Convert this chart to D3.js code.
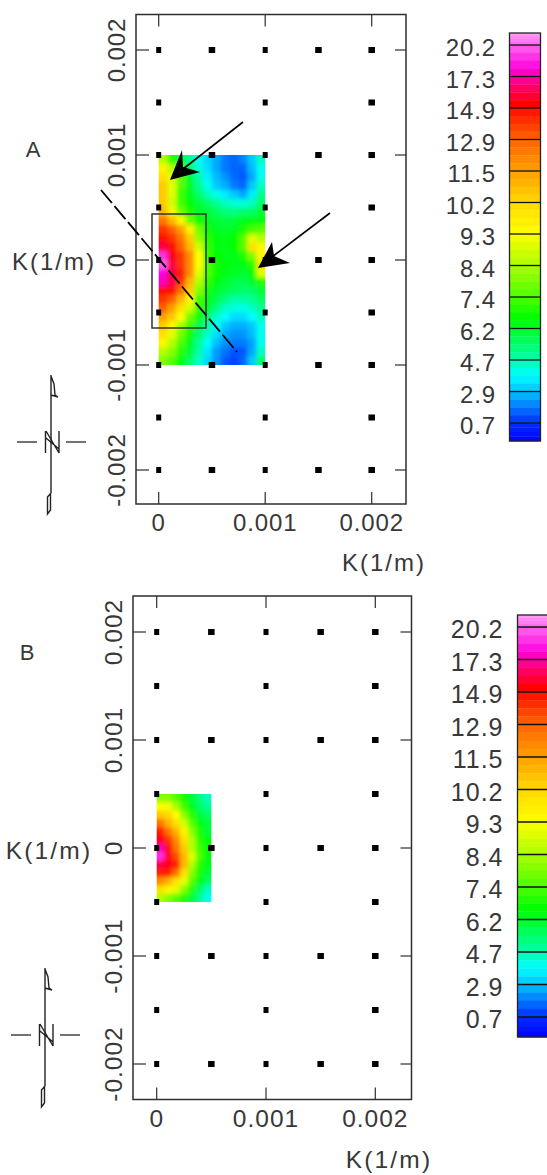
<!DOCTYPE html>
<html><head><meta charset="utf-8">
<script src="https://cdn.jsdelivr.net/npm/d3@7/dist/d3.min.js"></script>
<style>html,body{margin:0;padding:0;background:#fff}svg{display:block}
text{font-family:"Liberation Sans",Arial,sans-serif;fill:#383838}</style></head>
<body><svg id="c" width="547" height="1175"></svg>
<script>
const legendLabels=["20.2","17.3","14.9","12.9","11.5","10.2","9.3","8.4","7.4","6.2","4.7","2.9","0.7"];
const legendEnds=[22,0];
const colorStops=[0,3.8,6.6,9.3,15.2,18,20.2,22];
const colorValues=["#0000ff","#00ffff","#00ff00","#ffff00","#ff0000","#ff00e0","#ff66ee","#ffa0f8"];
const xTicks=[0,0.001,0.002];
const yTicks=[0.002,0.001,0,-0.001,-0.002];
const xLabels=["0","0.001","0.002"];
const yLabels=["0.002","0.001","0","-0.001","-0.002"];
const gridColumns=[
 {k:0,rows:[0.002,0.0015,0.001,0.0005,0,-0.0005,-0.001,-0.0015,-0.002]},
 {k:0.0005,rows:[0.002,0.001,0,-0.001,-0.002]},
 {k:0.001,rows:[0.002,0.0015,0.001,0.0005,0,-0.0005,-0.001,-0.0015,-0.002]},
 {k:0.0015,rows:[0.002,0.001,0,-0.001,-0.002]},
 {k:0.002,rows:[0.002,0.0015,0.001,0.0005,0,-0.0005,-0.001,-0.0015,-0.002]}];
const heatA=[
[8.5,7,6,5,4,3.2,2.5,1.8,1.5,2,3,4.5],
[9.5,8.5,7,5.5,4.2,3.3,2.5,1.8,1.5,1.5,2.8,4],
[10,9,7.5,6,4.8,3.6,2.8,2.2,1.6,1.3,2.5,4],
[10.5,9,7.5,6.3,5,4,3,2.6,1.8,1.5,3,4.5],
[10.5,9,7.2,6.3,5.5,4.6,4,3.5,3,2.5,3.5,5],
[10.5,8.8,7.3,6.6,6,5.5,5,4.5,4.3,4.2,4.5,5.5],
[11,9.5,7.8,6.8,6.2,6,5.6,5.3,5.2,5.4,5.5,6],
[12.5,11,9.5,7.8,6.8,6.3,6,5.9,6,6.3,6.5,6.5],
[14,13,11.5,9.6,7.8,6.7,6.2,6.1,6.3,6.8,7.3,7.5],
[15,14,12.5,10.5,8.2,7,6.5,6.4,6.6,7.5,9,8.5],
[16,15,13,11,8.8,7.1,6.5,6.4,6.6,7.5,10,9.5],
[19,15.5,14,12,9.3,7.2,6.6,6.4,6.4,6.9,8,9.5],
[20,16,14,12,9.3,7.4,6.7,6.5,6.4,6.4,7,10],
[18,16,14.5,12,9,7.4,6.7,6.4,6.2,6.1,6.5,9],
[17.5,16,14,11,8.5,7.1,6.5,6.1,5.8,5.7,6.1,7],
[15,15,12.5,10.5,8,6.8,6.1,5.8,5.6,5.4,5.5,6],
[14,13,11,9.5,7.3,6.5,5.8,5.2,4.8,4.8,5,5.5],
[13,11.5,10,8.8,7.2,6.2,5.2,4.4,4.2,4,4.4,5],
[11.5,10.5,9.3,7.8,6.8,5.4,4.4,3.8,3.3,3.3,3.8,4.5],
[10.5,9.5,8.3,7.2,5.8,4.8,3.8,3,2.6,2.6,3,4],
[10,9,7.8,6.8,5.4,4.4,3.3,2.6,2.2,2.2,2.8,4],
[9.5,8.5,7.4,6.3,5,3.8,2.8,2.2,1.8,1.8,2.4,4],
[8.5,8,7,6,4.8,3.4,2.3,1.7,1.2,1.3,2.5,4.5],
[8,7.5,6.5,5.5,4.4,3.2,2.2,1.3,1,1.5,3,5.5]];
const heatB=[
[8,8,7.5,6.8,6,5.3,4.5],
[9.3,9.2,8.3,7.2,6.4,5.5,5],
[10.5,10.2,9.3,8,7,6,5.5],
[12.5,11,10,8.8,7.5,6.5,6],
[14.5,12.5,11,9.5,8,6.9,6],
[15.5,14,12,10,8.5,7,6.5],
[17.5,15,12.5,10.5,8.5,7.3,6.5],
[19,15.5,13.5,11,9,7.4,6.5],
[16,15.5,14.5,11,8.5,7,6.4],
[14.5,14.5,12.5,10,8,6.9,6],
[12,11,10,9,7.5,6.4,5.5],
[10,9.5,9,8,7,5.5,4.5],
[8.5,8,7.5,7,6,5,4]];

const color=d3.scaleLinear().domain(colorStops).range(colorValues).interpolate(d3.interpolateRgb);
const svg=d3.select("#c");
const defs=svg.append("defs");
const ink="#2e2e2e";

function panel(o){
  const x=d3.scaleLinear().domain([0,0.002]).range([o.x0,o.x2]);
  const y=d3.scaleLinear().domain([0.002,-0.002]).range([o.y2,o.yn2]);
  const g=svg.append("g");
  const id="clip"+o.name, fid="blur"+o.name;
  const hx=d3.scaleLinear().domain([0,o.heat[0].length]).range([x(0),x(o.ext)]);
  const hy=d3.scaleLinear().domain([0,o.heat.length]).range([y(o.hExt),y(-o.hExt)]);
  defs.append("clipPath").attr("id",id).append("rect")
    .attr("x",x(0)).attr("y",y(o.hExt)).attr("width",x(o.ext)-x(0)).attr("height",y(-o.hExt)-y(o.hExt));
  defs.append("filter").attr("id",fid).attr("x","-10%").attr("y","-10%").attr("width","120%").attr("height","120%")
    .append("feGaussianBlur").attr("stdDeviation",o.blur).attr("edgeMode","duplicate");
  const heat=g.append("g").attr("clip-path",`url(#${id})`).append("g").attr("filter",`url(#${fid})`);
  const cols=o.heat[0].length, rows=o.heat.length;
  for(let r=-2;r<rows+2;r++)for(let c=-2;c<cols+2;c++){
    const v=o.heat[Math.max(0,Math.min(rows-1,r))][Math.max(0,Math.min(cols-1,c))];
    heat.append("rect").attr("x",hx(c)).attr("y",hy(r))
      .attr("width",hx(c+1)-hx(c)+0.5).attr("height",hy(r+1)-hy(r)+0.5).attr("fill",color(v));
  }
  gridColumns.forEach(col=>col.rows.forEach(v=>{
    const w=(col.k===0||col.k===0.001)?5:6.5;
    g.append("rect").attr("x",x(col.k)-w/2).attr("y",y(v)-3).attr("width",w).attr("height",6).attr("fill","#000");
  }));
  g.append("rect").attr("x",o.l).attr("y",o.t).attr("width",o.r-o.l).attr("height",o.b-o.t)
    .attr("fill","none").attr("stroke",ink).attr("stroke-width",1.5);
  xTicks.forEach(v=>{
    g.append("line").attr("x1",x(v)).attr("x2",x(v)).attr("y1",o.t).attr("y2",o.t+12).attr("stroke",ink).attr("stroke-width",1.2);
    g.append("line").attr("x1",x(v)).attr("x2",x(v)).attr("y1",o.b).attr("y2",o.b-12).attr("stroke",ink).attr("stroke-width",1.2);
  });
  yTicks.forEach(v=>{
    g.append("line").attr("y1",y(v)).attr("y2",y(v)).attr("x1",o.l).attr("x2",o.l+13).attr("stroke",ink).attr("stroke-width",1.2);
    g.append("line").attr("y1",y(v)).attr("y2",y(v)).attr("x1",o.r).attr("x2",o.r-11).attr("stroke",ink).attr("stroke-width",1.2);
  });
  const fs=o.fs, ls=o.ls;
  xTicks.forEach((v,i)=>g.append("text").attr("x",x(v)).attr("y",o.xLabY).attr("text-anchor","middle")
    .attr("font-size",fs).attr("letter-spacing",ls).text(xLabels[i]));
  yTicks.forEach((v,i)=>g.append("text").attr("text-anchor","middle").attr("font-size",fs).attr("letter-spacing",ls)
    .attr("transform",`translate(${o.yLabX},${y(v)}) rotate(-90)`).text(yLabels[i]));
  g.append("text").attr("x",o.xTitle[0]).attr("y",o.xTitle[1]).attr("text-anchor","middle").attr("font-size",fs).attr("letter-spacing",o.tls).text("K(1/m)");
  g.append("text").attr("x",o.yTitle[0]).attr("y",o.yTitle[1]).attr("text-anchor","middle").attr("font-size",fs).attr("letter-spacing",o.tls).text("K(1/m)");
  g.append("text").attr("x",o.tag[0]).attr("y",o.tag[1]).attr("text-anchor","middle").attr("font-size",22).text(o.name);
  const ly=d3.scaleLinear().domain([0,legendLabels.length-1]).range([o.legT,o.legB]);
  const levels=[legendEnds[0],...legendLabels.map(Number),legendEnds[1]];
  const edges=[o.legTop,...legendLabels.map((d,i)=>ly(i)),o.legBot];
  const leg=g.append("g");
  for(let i=0;i<levels.length-1;i++){
    const n=4;
    for(let s=0;s<n;s++){
      const y0=edges[i]+(edges[i+1]-edges[i])*s/n, y1=edges[i]+(edges[i+1]-edges[i])*(s+1)/n;
      const v=levels[i]+(levels[i+1]-levels[i])*(s+.5)/n;
      leg.append("rect").attr("x",o.legX).attr("y",y0).attr("width",o.legW).attr("height",y1-y0+.3).attr("fill",color(v));
    }
  }
  legendLabels.forEach((d,i)=>{
    leg.append("line").attr("x1",o.legX).attr("x2",o.legX+o.legW).attr("y1",ly(i)).attr("y2",ly(i)).attr("stroke","#111").attr("stroke-width",1.3);
    leg.append("text").attr("x",o.legLabX).attr("y",ly(i)+o.legDy).attr("text-anchor","end").attr("font-size",o.legFs).attr("letter-spacing",ls).text(d);
  });
  leg.append("rect").attr("x",o.legX).attr("y",o.legTop).attr("width",o.legW).attr("height",o.legBot-o.legTop)
    .attr("fill","none").attr("stroke","#222").attr("stroke-width",1.3);
  const n=g.append("g").attr("transform",`translate(${o.north[0]},${o.north[1]})`).attr("fill","none").attr("stroke","#222").attr("stroke-width",1.4);
  n.append("path").attr("d","M51 375V493M51 493L47.5 497V514L50.5 510V493M51 376L54 384L55 395L58 397L51 395");
  n.append("path").attr("d","M17 442H37M66 442H86").attr("stroke","#444").attr("stroke-width",1.5);
  n.append("path").attr("d","M45.5 431V453M59 431V453M46 431L59 453M46 438L59 449");
  return {x,y,g};
}

const A=panel({name:"A",heat:heatA,ext:0.001,hExt:0.001,blur:2.2,
  x0:158.7,x2:371.7,y2:50,yn2:470,l:136,r:406,t:14.5,b:504,
  fs:24,ls:0.9,tls:2,xLabY:531,yLabX:125,xTitle:[384,571],yTitle:[54,270],tag:[33,157],
  legX:509.5,legW:31,legTop:33,legBot:441,legT:45,legB:423,legLabX:496,legDy:11,legFs:24,north:[0,0]});
const B=panel({name:"B",heat:heatB,ext:0.0005,hExt:0.0005,blur:2,
  x0:156.7,x2:375.3,y2:632,yn2:1064,l:133,r:411.5,t:596,b:1099.5,
  fs:24.5,ls:1,tls:2.2,xLabY:1126.5,yLabX:122,xTitle:[389,1168],yTitle:[49,859],tag:[27,660],
  legX:517.5,legW:34,legTop:615,legBot:1037,legT:627,legB:1017,legLabX:503.5,legDy:11,legFs:25,north:[-6,593]});

const ga=A.g.append("g");
ga.append("rect").attr("x",152).attr("y",214).attr("width",54).attr("height",114).attr("fill","none").attr("stroke","#333").attr("stroke-width",1.5);
ga.append("line").attr("x1",101).attr("y1",190).attr("x2",237).attr("y2",352).attr("stroke","#000").attr("stroke-width",1.8).attr("stroke-dasharray","17 4");
ga.append("line").attr("x1",243).attr("y1",122).attr("x2",178).attr("y2",173).attr("stroke","#000").attr("stroke-width",1.6);
ga.append("polygon").attr("points","170,180 182,150 183,167 200,172").attr("fill","#000");
ga.append("line").attr("x1",330).attr("y1",213).attr("x2",268).attr("y2",260).attr("stroke","#000").attr("stroke-width",1.6);
ga.append("polygon").attr("points","258,268 272,242 274,256 290,263").attr("fill","#000");
</script></body></html>
